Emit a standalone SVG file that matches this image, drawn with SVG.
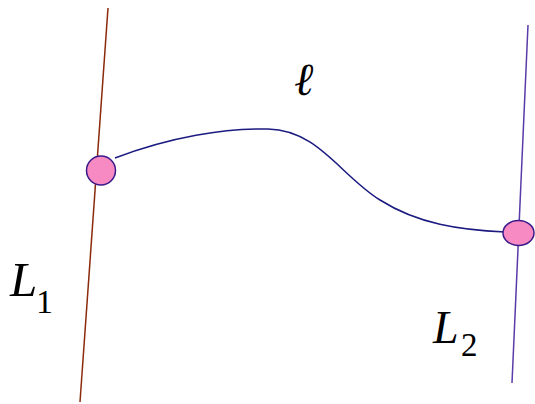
<svg xmlns="http://www.w3.org/2000/svg" width="535" height="404" viewBox="0 0 535 404">
<style>
.t{font-family:"Liberation Serif","Times New Roman",serif;fill:#000}
.i{font-style:italic}
.dot{fill:#f78ac2;stroke:#3a1a8a;stroke-width:1.5}
</style>
<rect width="535" height="404" fill="#fff"/>
<g id="lines">
<line id="L1line" x1="108" y1="8" x2="80" y2="402" stroke="#8b2a0a" stroke-width="1.5"/>
<line id="L2line" x1="528" y1="25" x2="512" y2="383" stroke="#5a3aa8" stroke-width="1.5"/>
</g>
<g id="connectors">
<path d="M115,158 C170,137 225,128 268,129 C318,130 340,175 380,200 C418,224 460,230 505,232" fill="none" stroke="#1a1a80" stroke-width="1.5"/>
</g>
<g id="p1"><ellipse class="dot" cx="101" cy="170.5" rx="14.5" ry="14.5"/></g>
<g id="p2"><ellipse class="dot" cx="518.5" cy="233" rx="15.5" ry="12.5"/></g>
<g id="label-ell"><text class="t i" x="294" y="95" font-size="46">ℓ</text></g>
<g id="label-L1"><text class="t i" x="10" y="296" font-size="49">L</text><text class="t" x="36" y="313" font-size="34">1</text></g>
<g id="label-L2"><text class="t i" x="433" y="343" font-size="46">L</text><text class="t" x="461" y="356" font-size="33">2</text></g>
</svg>
